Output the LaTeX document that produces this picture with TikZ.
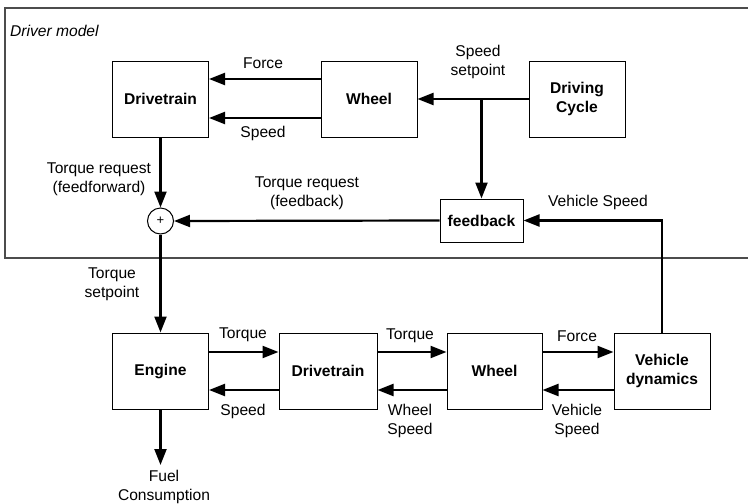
\documentclass[tikz,border=0pt]{standalone}
\usepackage{fontspec}
\setmainfont{Liberation Sans}
\usetikzlibrary{arrows.meta}
\begin{document}
\begin{tikzpicture}[x=1pt,y=-1pt,
  every node/.style={font=\fontsize{15.6}{19}\selectfont, inner sep=0pt, align=center},
  blk/.style={draw, line width=1pt, minimum width=96pt, minimum height=76pt, font=\fontsize{15.6}{19}\selectfont\bfseries},
  arr/.style={line width=2.2pt, -{Triangle[length=16pt,width=12pt]}},
  lbl/.style={font=\fontsize{15.6}{19}\selectfont}]
\useasboundingbox (0,0) rectangle (748,504);
\fill[white] (0,0) rectangle (748,504);
\draw[line width=1.3pt, black!70] (5,8) rectangle (760,258);
\node[anchor=west, font=\fontsize{15.6}{19}\selectfont\itshape] (dm) at (10,31) {Driver model};
% top row
\node[blk] (dt) at (160.5,99) {Drivetrain};
\node[blk] (wt) at (369,99) {Wheel};
\node[blk] (dc) at (577,99) {Driving\\Cycle};
\node[blk, minimum width=83pt, minimum height=43pt] (fb) at (481.5,220.5) {feedback};
\node[draw, circle, line width=1pt, minimum size=26pt, font=\fontsize{13}{13}\selectfont] (sum) at (160.5,221) {+};
% bottom row
\node[blk] (en) at (160.5,371) {Engine};
\node[blk, minimum width=98pt] (db) at (328,371) {Drivetrain};
\node[blk, minimum width=95pt] (wb) at (494.5,371) {Wheel};
\node[blk] (vd) at (662,371) {Vehicle\\dynamics};
\coordinate (j) at (fb.north |- dc.west);
\coordinate (fc) at (160.5,465);
% connectors top
\draw[arr] ([yshift=20pt]wt.west) -- ([yshift=20pt]dt.east);
\draw[arr] ([yshift=-19pt]wt.west) -- ([yshift=-19pt]dt.east);
\draw[arr] (dc.west) -- (wt.east);
\draw[arr] (j) -- (fb.north);
\draw[arr] (vd.north) |- (fb.east);
\draw[arr] (fb.west) -- (sum.east);
\draw[arr] (dt.south) -- (sum.north);
\draw[arr] (sum.south) -- (en.north);
\draw[arr] (en.south) -- (fc);
% connectors bottom
\draw[arr] ([yshift=19pt]en.east) -- ([yshift=19pt]db.west);
\draw[arr] ([yshift=-19pt]db.west) -- ([yshift=-19pt]en.east);
\draw[arr] ([yshift=19pt]db.east) -- ([yshift=19pt]wb.west);
\draw[arr] ([yshift=-19pt]wb.west) -- ([yshift=-19pt]db.east);
\draw[arr] ([yshift=19pt]wb.east) -- ([yshift=19pt]vd.west);
\draw[arr] ([yshift=-19pt]vd.west) -- ([yshift=-19pt]wb.east);
% labels
\node[lbl] (l1) at (263,63) {Force};
\node[lbl] (l2) at (263,133) {Speed};
\node[lbl] (l3) at (478,61.5) {Speed\\setpoint};
\node[lbl] (l4) at (99,179) {Torque request\\(feedforward)};
\node[lbl] (l5) at (307,193) {Torque request\\(feedback)};
\node[lbl] (l6) at (598,202) {Vehicle Speed};
\node[lbl] (l7) at (112,284) {Torque\\setpoint};
\node[lbl] (l8) at (243,335) {Torque};
\node[lbl] (l9) at (243,411) {Speed};
\node[lbl] (l10) at (410,336) {Torque};
\node[lbl] (l11) at (410,421) {Wheel\\Speed};
\node[lbl] (l12) at (577,336) {Force};
\node[lbl] (l13) at (577,421) {Vehicle\\Speed};
\node[lbl] (l14) at (164,487) {Fuel\\Consumption};
\end{tikzpicture}
\end{document}
